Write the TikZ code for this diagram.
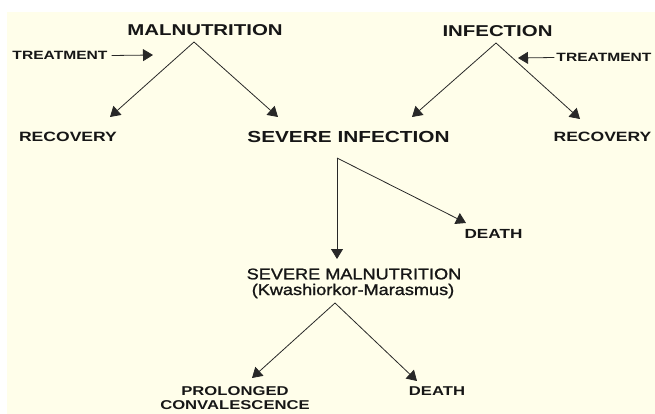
\documentclass[tikz,border=0pt]{standalone}
\usepackage{fontspec}
\setmainfont{Liberation Sans}[FakeStretch=1.3]
\newfontfamily\medfont{Liberation Sans}[FakeStretch=1.17, FakeBold=1.2]
\usepackage{xcolor}
\usetikzlibrary{arrows.meta}
\definecolor{creambg}{RGB}{255,254,234}
\definecolor{inkblack}{RGB}{22,22,22}
\definecolor{linegray}{RGB}{40,40,40}

\begin{document}
\begin{tikzpicture}[x=1pt, y=-1pt, >={Triangle[length=10pt, width=12pt]},
  head/.style={inkblack, inner sep=1pt, font=\bfseries\fontsize{15.7}{18}\selectfont},
  side/.style={inkblack, inner sep=1pt, font=\bfseries\fontsize{13.5}{16}\selectfont},
  plain/.style={inkblack, inner sep=1pt, font=\medfont\fontsize{15.5}{17}\selectfont},
  small/.style={inkblack, inner sep=1pt, font=\bfseries\fontsize{12.8}{13.6}\selectfont},
  conn/.style={->, linegray, line width=0.8pt}]

\fill[white] (0,0) rectangle (655,414);
\fill[creambg] (7,12) rectangle (655,414);

% top row
\node[head] (mal) at (205,30.5) {MALNUTRITION};
\node[head] (inf) at (497.5,31.5) {INFECTION};
\node[small, font=\bfseries\fontsize{12}{14}\selectfont] (treatL) at (60,55.5) {TREATMENT};
\node[small, font=\bfseries\fontsize{12}{14}\selectfont] (treatR) at (604,57.5) {TREATMENT};

% second row
\node[side] (recL) at (68,137) {RECOVERY};
\node[head, font=\bfseries\fontsize{16}{18}\selectfont] (sevInf) at (348.5,137) {SEVERE INFECTION};
\node[side] (recR) at (602.5,137) {RECOVERY};

% lower part
\node[small, font=\bfseries\fontsize{13.2}{15}\selectfont] (deathM) at (493.5,233.5) {DEATH};
\node[plain] (sevMal) at (354,274) {SEVERE MALNUTRITION};
\node[plain] (kwash) at (353,291) {(Kwashiorkor-Marasmus)};
\node[small, align=center] (prolConv) at (235,398) {PROLONGED\\CONVALESCENCE};
\node[small] (deathB) at (437,391.5) {DEATH};

% branch points and arrow ends
\coordinate (malApex) at (194,42);
\coordinate (infApex) at (496,43);
\coordinate (sevApex) at (337,158);
\coordinate (kwApex) at (335,303);
\coordinate (treatLTip) at (153,55);
\coordinate (treatRTip) at (518,58);
\coordinate (recLTip) at (110,117);
\coordinate (sevLTip) at (278,117);
\coordinate (sevRTip) at (412,117);
\coordinate (recRTip) at (580,119);
\coordinate (deathMTip) at (466,223);
\coordinate (sevMalTip) at (337,259);
\coordinate (prolTip) at (252,378);
\coordinate (deathBTip) at (417,381);

\draw[conn] ([xshift=3pt]treatL.east) -- (treatLTip);
\draw[conn] ([xshift=-1pt]treatR.west) -- (treatRTip);
\draw[conn] (malApex) -- (recLTip);
\draw[conn] (malApex) -- (sevLTip);
\draw[conn] (infApex) -- (sevRTip);
\draw[conn] (infApex) -- (recRTip);
\draw[conn] (sevApex) -- (sevMalTip);
\draw[conn] (sevApex) -- (deathMTip);
\draw[conn] (kwApex) -- (prolTip);
\draw[conn] (kwApex) -- (deathBTip);

\end{tikzpicture}
\end{document}
